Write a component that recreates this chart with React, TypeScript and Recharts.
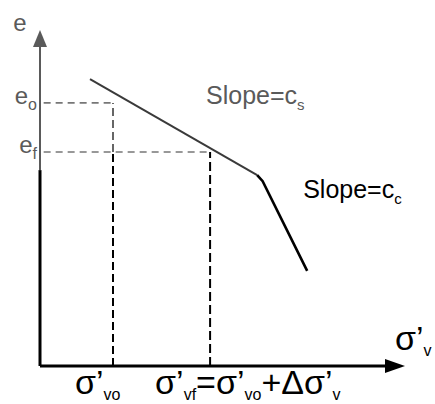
import { LineChart, Line, XAxis, YAxis, ReferenceLine, ReferenceDot } from 'recharts';

// conceptual units: x = log σ', y = e (both 0..100 across the plot)
const csCurve = [
  { x: 13.7, e: 85.4 },
  { x: 59.5, e: 56.8 },
];
const ccCurve = [
  { x: 59.5, e: 56.8 },
  { x: 61.0, e: 55.0 },
  { x: 73.2, e: 28.3 },
];
const eLevels = [78.3, 63.7];
const eSubs = ['o', 'f'];
const sigmaLevels = [20.0, 46.6];

const FONT = '"Liberation Sans", Arial, sans-serif';
const GRAY = '#5a5a5a';

const Sub = ({ children, size = 16, dy = 7 }: { children: string; size?: number; dy?: number }) => (
  <tspan fontSize={size} dy={dy}>{children}</tspan>
);

const YArrow = ({ cx, cy }: any) => (
  <polygon points={`${cx},${cy} ${cx - 7},${cy + 17} ${cx + 7},${cy + 17}`} fill={GRAY} />
);
const XArrow = ({ cx, cy }: any) => (
  <polygon points={`${cx},${cy} ${cx - 20},${cy - 7} ${cx - 20},${cy + 7}`} fill="#000" />
);

const ELabel = (sub: string) => ({ cx, cy }: any) => (
  <text x={cx - 3} y={cy + 1} textAnchor="end" fontFamily={FONT} fontSize={24} fill={GRAY}>
    e<Sub size={16} dy={6}>{sub}</Sub>
  </text>
);

const AxisTitleE = ({ cx, cy }: any) => (
  <text x={cx} y={cy} textAnchor="middle" fontFamily={FONT} fontSize={24} fill={GRAY}>
    e
  </text>
);

const SigmaVo = ({ cx, cy }: any) => (
  <text x={cx - 38} y={cy + 28} fontFamily={FONT} fontSize={34} fill="#000">
    σ’<Sub size={16} dy={6}>vo</Sub>
  </text>
);

const SigmaVf = ({ cx, cy }: any) => (
  <text x={cx - 55} y={cy + 28} fontFamily={FONT} fontSize={34} fill="#000">
    σ’<Sub size={16} dy={6}>vf</Sub>
    <tspan dy={-6}>=σ’</tspan>
    <Sub size={16} dy={6}>vo</Sub>
    <tspan dy={-6}>+Δσ’</tspan>
    <Sub size={16} dy={6}>v</Sub>
  </text>
);

const SigmaAxis = ({ cx, cy }: any) => (
  <text x={cx - 10} y={cy - 16} fontFamily={FONT} fontSize={34} fill="#000">
    σ’<Sub size={16} dy={6}>v</Sub>
  </text>
);

const SlopeLabel = (sub: string, color: string) => ({ cx, cy }: any) => (
  <text x={cx} y={cy} fontFamily={FONT} fontSize={25} fill={color}>
    Slope=c<Sub size={15} dy={6}>{sub}</Sub>
  </text>
);

export default function App() {
  return (
    <div style={{ width: 435, height: 404, background: '#fff' }}>
      <style>{'body{margin:0}'}</style>
      <LineChart width={435} height={404} margin={{ top: 30, right: 30, bottom: 38, left: 40 }}>
        <XAxis type="number" dataKey="x" domain={[0, 100]} hide />
        <YAxis type="number" dataKey="e" domain={[0, 100]} hide />

        {/* axes */}
        <ReferenceLine segment={[{ x: 0, y: 58.3 }, { x: 0, y: 95 }]} stroke={GRAY} strokeWidth={2} ifOverflow="visible" />
        <ReferenceLine segment={[{ x: 0, y: 0 }, { x: 0, y: 58.3 }]} stroke="#000" strokeWidth={3} ifOverflow="visible" />
        <ReferenceLine segment={[{ x: 0, y: 0 }, { x: 95, y: 0 }]} stroke="#000" strokeWidth={3} ifOverflow="visible" />
        <ReferenceDot x={0} y={100} r={0} shape={YArrow} ifOverflow="visible" />
        <ReferenceDot x={100} y={0} r={0} shape={XArrow} ifOverflow="visible" />
        <ReferenceDot x={-5.5} y={99.7} r={0} shape={AxisTitleE} ifOverflow="visible" />
        <ReferenceDot x={100} y={0} r={0} shape={SigmaAxis} ifOverflow="visible" />

        {/* guide lines */}
        {eLevels.map((lv, i) => (
          <ReferenceLine
            key={'h' + i}
            segment={[{ x: 1, y: lv }, { x: sigmaLevels[i], y: lv }]}
            stroke="#777"
            strokeWidth={1.6}
            strokeDasharray="7 5"
            ifOverflow="visible"
          />
        ))}
        <ReferenceLine segment={[{ x: sigmaLevels[0], y: eLevels[1] }, { x: sigmaLevels[0], y: eLevels[0] }]} stroke="#666" strokeWidth={2} strokeDasharray="8 4" ifOverflow="visible" />
        <ReferenceLine segment={[{ x: sigmaLevels[0], y: 0 }, { x: sigmaLevels[0], y: eLevels[1] }]} stroke="#000" strokeWidth={2} strokeDasharray="8 4" ifOverflow="visible" />
        <ReferenceLine segment={[{ x: sigmaLevels[1], y: 0 }, { x: sigmaLevels[1], y: eLevels[1] }]} stroke="#000" strokeWidth={2} strokeDasharray="9 4" ifOverflow="visible" />

        {eLevels.map((lv, i) => (
          <ReferenceDot key={'el' + i} x={0} y={lv} r={0} shape={ELabel(eSubs[i])} ifOverflow="visible" />
        ))}
        <ReferenceDot x={sigmaLevels[0]} y={0} r={0} shape={SigmaVo} ifOverflow="visible" />
        <ReferenceDot x={sigmaLevels[1]} y={0} r={0} shape={SigmaVf} ifOverflow="visible" />

        {/* e - log σ' curve */}
        <Line data={csCurve} dataKey="e" type="linear" stroke="#3a3a3a" strokeWidth={2} dot={false} isAnimationActive={false} />
        <Line data={ccCurve} dataKey="e" type="linear" stroke="#000" strokeWidth={2.6} dot={false} isAnimationActive={false} />

        <ReferenceDot x={45.5} y={78} r={0} shape={SlopeLabel('s', GRAY)} ifOverflow="visible" />
        <ReferenceDot x={72.1} y={50} r={0} shape={SlopeLabel('c', '#000')} ifOverflow="visible" />
      </LineChart>
    </div>
  );
}
